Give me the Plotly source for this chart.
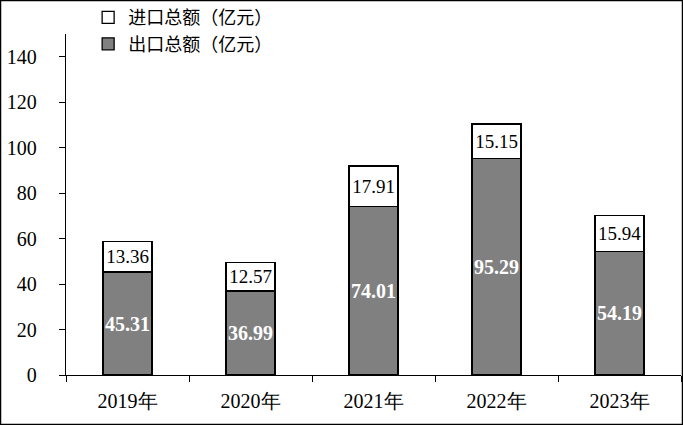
import plotly.graph_objects as go

years = ["2019年", "2020年", "2021年", "2022年", "2023年"]
exports = [45.31, 36.99, 74.01, 95.29, 54.19]
imports = [13.36, 12.57, 17.91, 15.15, 15.94]
export_name = "出口总额（亿元）"
import_name = "进口总额（亿元）"

serif = "Liberation Serif"
cjk = "Noto Sans CJK SC"

fig = go.Figure()
fig.add_trace(go.Bar(
    x=years, y=exports, name=export_name,
    marker=dict(color="#808080", line=dict(color="black", width=1.3)),
    text=[f"{v:.2f}" for v in exports], textposition="inside",
    insidetextanchor="middle", constraintext="none", textangle=0,
    textfont=dict(family=serif, size=20, color="white", weight="bold"),
    width=0.4,
))
fig.add_trace(go.Bar(
    x=years, y=imports, name=import_name,
    marker=dict(color="white", line=dict(color="black", width=1.3)),
    text=[f"{v:.2f}" for v in imports], textposition="inside",
    insidetextanchor="middle", constraintext="none", textangle=0,
    textfont=dict(family=serif, size=19, color="black"),
    width=0.4,
))

fig.update_layout(
    width=683, height=425,
    margin=dict(l=66, r=2, t=34, b=50, autoexpand=False),
    barmode="stack",
    plot_bgcolor="white", paper_bgcolor="white",
    font=dict(family=serif, color="black"),
    showlegend=True,
    legend=dict(
        x=0.036, y=1.102, xanchor="left", yanchor="top",
        traceorder="reversed", bgcolor="rgba(0,0,0,0)",
        font=dict(family=cjk, size=18, color="black"),
        itemwidth=30, tracegroupgap=0,
    ),
    xaxis=dict(
        showline=True, linecolor="black", linewidth=1.3,
        ticks="outside", tickson="boundaries", ticklen=6, tickcolor="black",
        tickfont=dict(family=serif, size=20, color="black"),
        ticklabelstandoff=8, showgrid=False,
    ),
    yaxis=dict(
        range=[0, 150], tickvals=[0, 20, 40, 60, 80, 100, 120, 140],
        showline=True, linecolor="black", linewidth=1.3,
        ticks="outside", ticklen=6, tickcolor="black",
        tickfont=dict(family=serif, size=20, color="black"),
        ticklabelstandoff=18, showgrid=False, zeroline=False,
    ),
    shapes=[dict(
        type="rect", xref="paper", yref="paper",
        x0=-65.5 / 615, x1=1 + 1.5 / 615,
        y0=-49.5 / 341, y1=1 + 33.5 / 341,
        line=dict(color="black", width=1.5), fillcolor="rgba(0,0,0,0)",
        layer="above",
    )],
)

fig.write_html("out.html", config={"displayModeBar": False},
               post_script="document.body.style.margin='0';")
